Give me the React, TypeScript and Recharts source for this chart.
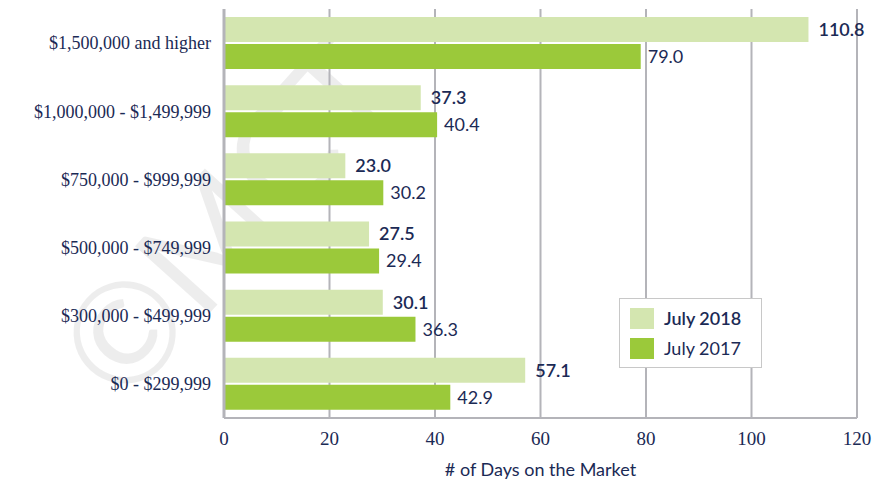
import React from "react";
import {
  Bar,
  BarChart,
  CartesianGrid,
  LabelList,
  XAxis,
  YAxis
} from "recharts";

const categories = [
  "$1,500,000 and higher",
  "$1,000,000 - $1,499,999",
  "$750,000 - $999,999",
  "$500,000 - $749,999",
  "$300,000 - $499,999",
  "$0 - $299,999"
];
const july2018 = [110.8, 37.3, 23.0, 27.5, 30.1, 57.1];
const july2017 = [79.0, 40.4, 30.2, 29.4, 36.3, 42.9];
const xTicks = [0, 20, 40, 60, 80, 100, 120];

const data = categories.map((name, i) => ({
  name,
  y2018: july2018[i],
  y2017: july2017[i]
}));

const navy = "#1b2a55";
const gridGray = "#b4b4b9";
const lightGreen = "#d4e6b0";
const green = "#9bc93a";
const sans = "Lato, 'Open Sans', sans-serif";
const serif = "'Liberation Serif', 'DejaVu Serif', serif";

const legendItems = [
  { label: "July 2018", color: lightGreen, weight: 600 },
  { label: "July 2017", color: green, weight: 400 }
];

export default function App() {
  return (
    <div style={{ position: "absolute", top: 0, left: 0, width: 875, height: 480, background: "#fff", overflow: "hidden" }}>
      {/* faint watermark, behind the bars */}
      <div
        style={{
          position: "absolute",
          left: 135,
          top: 280,
          fontFamily: sans,
          fontSize: 140,
          fontWeight: 400,
          lineHeight: 1,
          color: "rgba(0,0,0,0.07)",
          transform: "rotate(-48deg)",
          transformOrigin: "left bottom",
          whiteSpace: "nowrap",
          pointerEvents: "none"
        }}
      >
        ©MCT
      </div>
      <div style={{ position: "absolute", top: 0, left: 0 }}>
        <BarChart
          width={875}
          height={480}
          data={data}
          layout="vertical"
          margin={{ top: 9, right: 18, bottom: 0, left: 0 }}
          barCategoryGap={8}
          barGap={2}
        >
          <CartesianGrid horizontal={false} stroke={gridGray} strokeWidth={2} />
          <XAxis
            type="number"
            domain={[0, 120]}
            ticks={xTicks}
            tickLine={false}
            axisLine={{ stroke: gridGray, strokeWidth: 2 }}
            tick={{ fill: navy, fontFamily: serif, fontSize: 19 }}
            tickMargin={8}
            height={62}
            label={{
              value: "# of Days on the Market",
              position: "insideBottom",
              offset: 4,
              fill: navy,
              fontFamily: sans,
              fontSize: 18
            }}
          />
          <YAxis
            type="category"
            dataKey="name"
            width={224}
            tickLine={false}
            axisLine={{ stroke: gridGray, strokeWidth: 3 }}
            tick={{ fill: navy, fontFamily: serif, fontSize: 18 }}
            tickMargin={7}
          />
          <Bar dataKey="y2018" name="July 2018" fill={lightGreen} isAnimationActive={false}>
            <LabelList
              dataKey="y2018"
              position="right"
              offset={10}
              formatter={(v: number) => v.toFixed(1)}
              style={{ fill: navy, fontFamily: sans, fontSize: 18, fontWeight: 600 }}
            />
          </Bar>
          <Bar dataKey="y2017" name="July 2017" fill={green} isAnimationActive={false}>
            <LabelList
              dataKey="y2017"
              position="right"
              offset={7}
              formatter={(v: number) => v.toFixed(1)}
              style={{ fill: navy, fontFamily: sans, fontSize: 18 }}
            />
          </Bar>
        </BarChart>
      </div>
      {/* legend sits inside the plot, lower right */}
      <div
        style={{
          position: "absolute",
          left: 619,
          top: 298,
          width: 143,
          boxSizing: "border-box",
          border: "1px solid #c8c8c8",
          background: "#fff",
          padding: "4px 10px",
          fontFamily: sans,
          fontSize: 18,
          color: navy
        }}
      >
        {legendItems.map((it) => (
          <div key={it.label} style={{ display: "flex", alignItems: "center", height: 30 }}>
            <span style={{ width: 24, height: 21, background: it.color, marginRight: 10 }} />
            <span style={{ fontWeight: it.weight }}>{it.label}</span>
          </div>
        ))}
      </div>
    </div>
  );
}
